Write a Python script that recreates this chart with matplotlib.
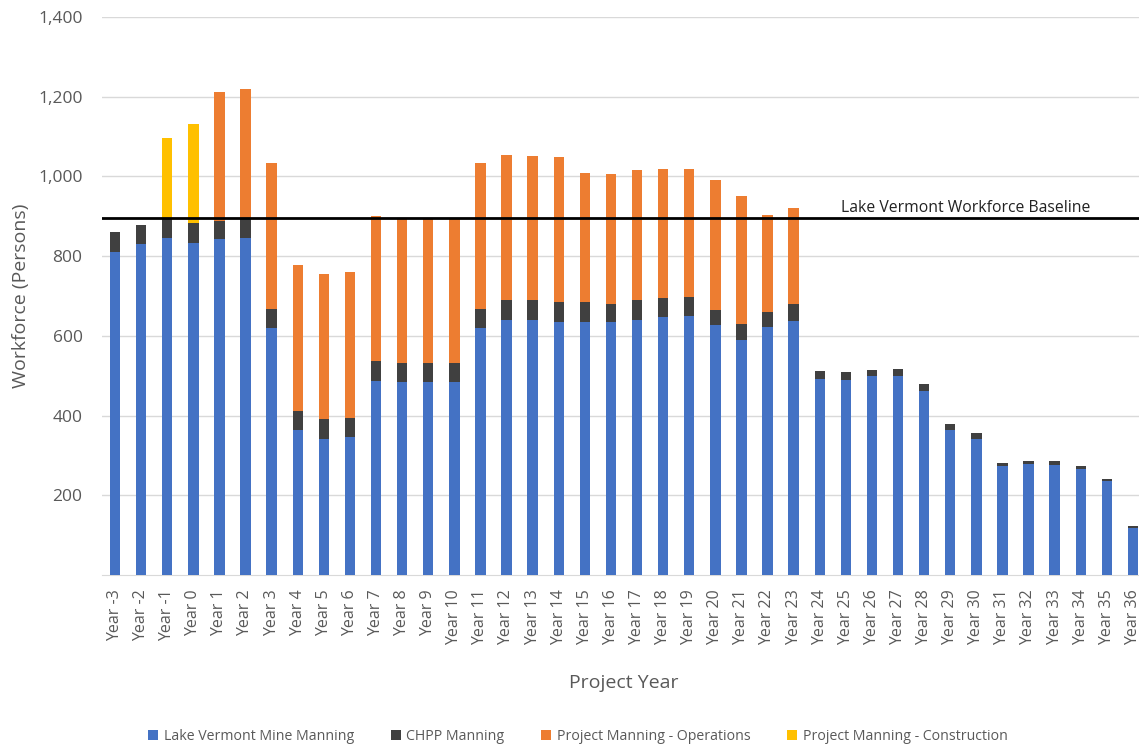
import matplotlib.pyplot as plt
from matplotlib.ticker import FuncFormatter
import numpy as np

plt.rcParams['font.family'] = ['Open Sans', 'DejaVu Sans']

# data
years = [f"Year {y}" for y in range(-3, 37)]
mine_manning = [811, 830, 845, 833, 843, 845, 619, 363, 341, 345,
                487, 484, 484, 484, 620, 641, 641, 635, 635, 635,
                641, 648, 651, 626, 589, 622, 638, 493, 489, 499,
                499, 462, 363, 341, 274, 279, 276, 267, 236, 118]
chpp_manning = [49, 49, 50, 50, 46, 50, 49, 49, 50, 49,
                49, 49, 49, 49, 48, 49, 49, 49, 49, 46,
                49, 46, 46, 40, 40, 37, 41, 19, 20, 16,
                19, 18, 15, 16, 6, 6, 9, 7, 4, 4]
project_ops = [0, 0, 0, 0, 324, 324, 365, 365, 364, 365,
               364, 362, 362, 362, 365, 365, 362, 365, 325, 325,
               326, 324, 321, 325, 321, 245, 243, 0, 0, 0,
               0, 0, 0, 0, 0, 0, 0, 0, 0, 0]
project_construction = [0, 0, 201, 249] + [0] * 36
baseline = 895

x = np.arange(len(years))
mine = np.array(mine_manning)
chpp = np.array(chpp_manning)
ops = np.array(project_ops)
cons = np.array(project_construction)

fig = plt.figure(figsize=(11.39, 7.44), dpi=100)
ax = fig.add_axes([102 / 1139, 1 - 575 / 744, 1044 / 1139, 558 / 744])

w = 0.4
ax.bar(x, mine, w, color='#4472C4', label='Lake Vermont Mine Manning', zorder=3)
ax.bar(x, chpp, w, bottom=mine, color='#404040', label='CHPP Manning', zorder=3)
ax.bar(x, ops, w, bottom=mine + chpp, color='#ED7D31', label='Project Manning - Operations', zorder=3)
ax.bar(x, cons, w, bottom=mine + chpp + ops, color='#FFC000', label='Project Manning - Construction', zorder=3)

# baseline line and its label
ax.axhline(baseline, color='black', linewidth=2, zorder=4)
ax.text(32.6, baseline + 6, 'Lake Vermont Workforce Baseline', ha='center', va='bottom',
        fontsize=11.3, color='#222222')

ax.set_xlim(-0.5, len(years) - 0.5)
ax.set_ylim(0, 1400)
ax.set_yticks(range(200, 1401, 200))
ax.yaxis.set_major_formatter(FuncFormatter(lambda v, p: f"{int(v):,}"))
ax.yaxis.grid(True, color='#D9D9D9', linewidth=1, zorder=0)
ax.tick_params(axis='y', length=0, labelsize=12.5, labelcolor='#595959', pad=14)
ax.set_xticks(x)
ax.set_xticklabels(years, rotation=90, fontsize=11.5, color='#595959')
ax.tick_params(axis='x', length=0, pad=10)

for s in ['top', 'right', 'left']:
    ax.spines[s].set_visible(False)
ax.spines['bottom'].set_color('#D9D9D9')

ax.set_ylabel('Workforce (Persons)', fontsize=14, color='#595959', labelpad=6)
fig.text(624 / 1139, 1 - 683 / 744, 'Project Year', ha='center', va='center',
         fontsize=14, color='#595959')

fig.legend(loc='center', bbox_to_anchor=(578 / 1139, 1 - 736 / 744), ncol=4, frameon=False,
           fontsize=10.2, labelcolor='#595959', handlelength=0.7, handleheight=0.7,
           handletextpad=0.4, columnspacing=2.6)

fig.savefig('out.png', dpi=100)
